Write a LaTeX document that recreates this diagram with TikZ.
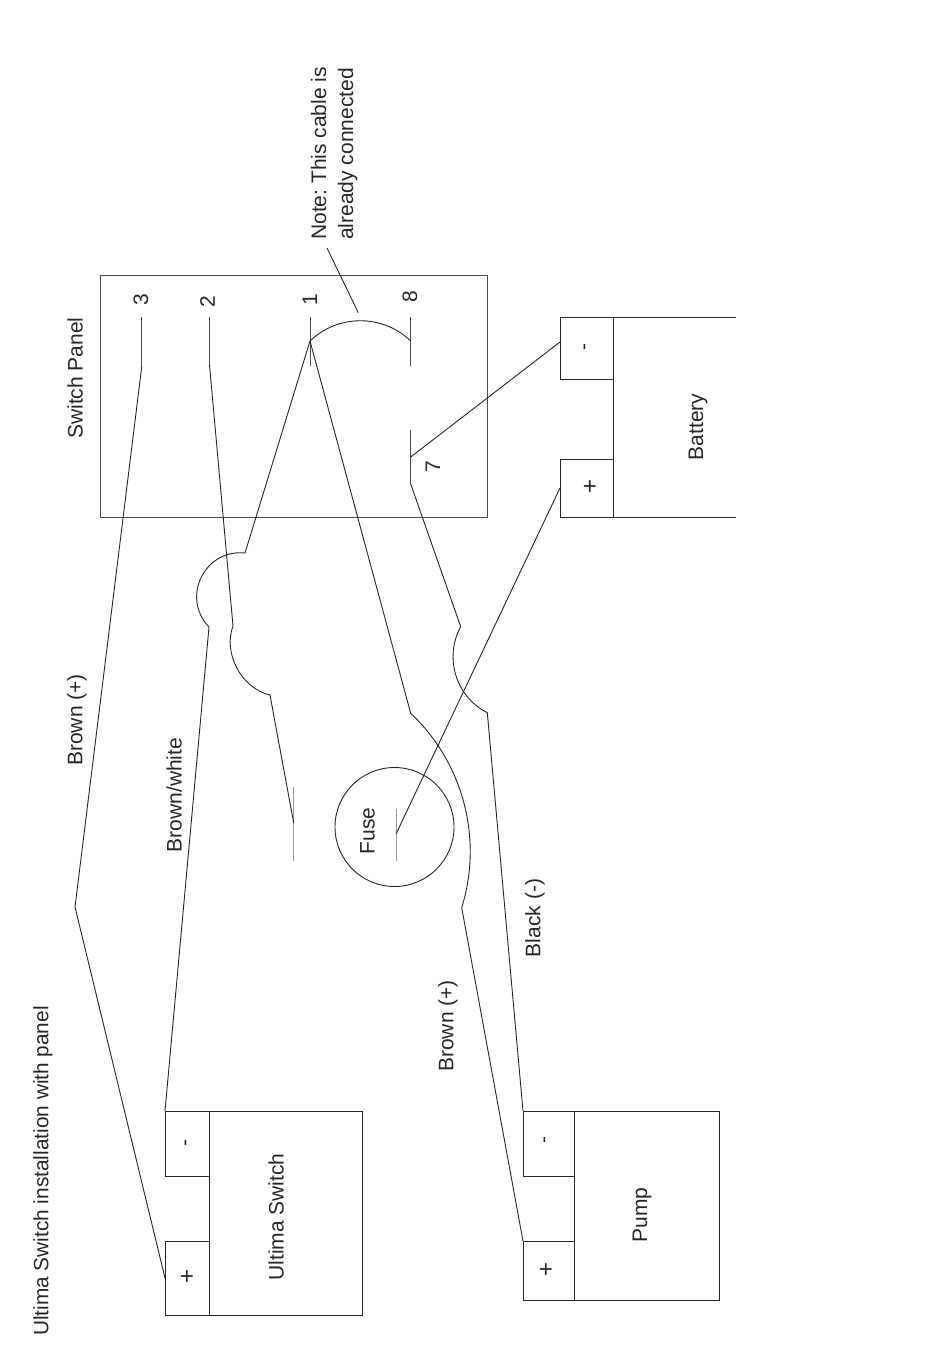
\documentclass[tikz,border=0pt]{standalone}
\usepackage{fontspec}
\setmainfont{Liberation Sans}
\frenchspacing
\tikzset{
  wire/.style={draw=black!85,line width=0.9pt,line join=round},
  term/.style={draw=black!70,line width=0.9pt},
  fadedterm/.style={draw=black!40,line width=1pt},
  boxed/.style={draw=black!85,line width=0.9pt,rectangle,inner sep=0pt,outer sep=0pt},
  lbl/.style={rotate=90,inner sep=0pt,font=\fontsize{21}{24}\selectfont,text=black!85},
  txt/.style={lbl,yshift=-2pt},
  sign/.style={lbl,yshift=-2pt,font=\fontsize{24}{24}\selectfont},
  lblsw/.style={lbl,anchor=base west}
}
\begin{document}
\begin{tikzpicture}[x=1pt,y=1pt]
\useasboundingbox (0,0) rectangle (950,-1365);
% --- switch panel
\node[boxed,draw=black!70,minimum width=387.6pt,minimum height=242pt] (panel) at (293.8,-396) {};
% --- terminals
\coordinate (t3a) at (141.7,-317); \coordinate (t3b) at (141.7,-367);
\coordinate (t2a) at (209.5,-317); \coordinate (t2b) at (209.5,-365);
\coordinate (t1a) at (310,-317);   \coordinate (t1b) at (310,-366);  \coordinate (t1m) at (310,-341);
\coordinate (t8a) at (410.7,-317); \coordinate (t8b) at (410.7,-366); \coordinate (t8m) at (410.7,-341);
\coordinate (t7a) at (410.7,-430); \coordinate (t7b) at (410.7,-484); \coordinate (t7m) at (410.7,-457);
\coordinate (pa) at (293.7,-787);  \coordinate (pb) at (293.7,-861);  \coordinate (pm) at (293.7,-823);
\coordinate (fa) at (396,-809);    \coordinate (fb) at (396,-861);    \coordinate (fm) at (396,-834);
\draw[term] (t3a)--(t3b);
\draw[term] (t2a)--(t2b);
\draw[term] (t1a)--(t1b);
\draw[term] (t8a)--(t8b);
\draw[term] (t7a)--(t7b);
\draw[fadedterm] (pa)--(pb);
\draw[fadedterm] (fa)--(fb);
% --- fuse
\node[boxed,circle,minimum size=119pt] (fuse) at (394.5,-827) {};
% --- ultima switch
\node[boxed,minimum width=152.5pt,minimum height=204pt] (umain) at (285.75,-1213) {};
\node[boxed,minimum width=44.5pt,minimum height=65pt] (uminus) at (187.25,-1143.5) {};
\node[boxed,minimum width=44.5pt,minimum height=74pt] (uplus) at (187.25,-1278) {};
% --- pump
\node[boxed,minimum width=145.5pt,minimum height=189pt] (pmain) at (646.75,-1205.5) {};
\node[boxed,minimum width=51pt,minimum height=65pt] (pminus) at (548.5,-1143.5) {};
\node[boxed,minimum width=51pt,minimum height=59pt] (pplus) at (548.5,-1270.5) {};
% --- battery
\coordinate (bnw) at (613,-317); \coordinate (bsw) at (613,-517);
\coordinate (bne) at (736,-317); \coordinate (bse) at (736,-517);
\draw[wire] (bne)--(bnw)--(bsw)--(bse);
\node[boxed,minimum width=53pt,minimum height=62pt] (bminus) at (586.5,-348) {};
\node[boxed,minimum width=53pt,minimum height=58pt] (bplus) at (586.5,-488) {};
\coordinate (bmt) at (560,-342);
% --- wire bends
\coordinate (w3k) at (75,-907);
\coordinate (w2a) at (233,-626); \coordinate (w2b) at (270,-695);
\coordinate (w1a) at (245,-553); \coordinate (w1b) at (209,-627);
\coordinate (w4a) at (410.7,-713.3); \coordinate (w4b) at (461.7,-907.7);
\coordinate (w7a) at (460.7,-626.7); \coordinate (w7b) at (487.3,-712.7);
% --- wires
\draw[wire] (t3b)--(w3k)--(uplus.west);
\draw[wire] (t2b)--(w2a) to[bend right=49,looseness=0.95] (w2b)--(pm);
\draw[wire] (t1m)--(w1a) to[bend right=70,looseness=1.27] (w1b)--(uminus.north west);
\draw[wire] (t1m)--(w4a) to[bend left=32,looseness=0.92] (w4b)--(pplus.north west);
\draw[wire] (t7b)--(w7a) to[bend right=46,looseness=1.0] (w7b)--(pminus.north west);
\draw[wire] (t1m) to[bend left=44,looseness=0.99] (t8m);
\draw[wire] (t7m)--(bmt);
\draw[wire] (fm)--(bplus.west);
% --- note leader
\coordinate (nta) at (327,-248); \coordinate (ntb) at (358.3,-312.7);
\draw[wire] (nta)--(ntb);
% --- labels
\node[txt,font=\fontsize{20.8}{24}\selectfont] (title) at (41,-1171) {Ultima Switch installation with panel};
\node[txt] (lbp1) at (75,-720) {Brown (+)};
\node[txt] (lbw) at (172,-795) {Brown/white};
\node[txt] (lfuse) at (365.5,-831) {Fuse};
\node[txt] (lblk) at (533,-918) {Black (-)};
\node[txt] (lbp2) at (446,-1026) {Brown (+)};
\node[txt] (lus) at (274,-1217) {Ultima Switch};
\node[txt] (lpump) at (640,-1215) {Pump};
\node[txt] (lbat) at (696,-427) {Battery};
\node[txt] (lsp) at (73,-378) {Switch Panel};
\node[lbl] (n3) at (141,-300) {3};
\node[lbl] (n2) at (207.5,-301.5) {2};
\node[lbl] (n1) at (310,-299.5) {1};
\node[lbl] (n8) at (410,-296.7) {8};
\node[lbl] (n7) at (433,-466.7) {7};
\node[sign] (uplbl) at (186,-1276) {+};
\node[txt] (umlbl) at (186,-1143) {-};
\node[sign] (pplbl) at (545,-1269) {+};
\node[txt] (pmlbl) at (545,-1140) {-};
\node[txt] (bmlbl) at (585,-347) {-};
\node[sign] (bplbl) at (589,-486) {+};
\node[lblsw] (note1) at (326,-240) {Note: This cable is};
\node[lblsw] (note2) at (353,-240) {already connected};
\end{tikzpicture}
\end{document}
